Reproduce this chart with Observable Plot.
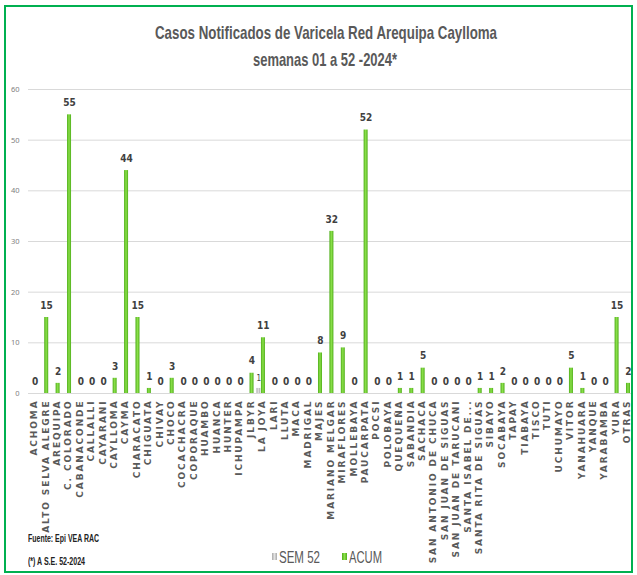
<!DOCTYPE html>
<html><head><meta charset="utf-8">
<script src="https://cdn.jsdelivr.net/npm/d3@7"></script>
<script src="https://cdn.jsdelivr.net/npm/@observablehq/plot@0.6"></script>
<style>
body{margin:0;background:#fff;}
#wrap{position:relative;width:637px;height:575px;overflow:hidden;font-family:"Liberation Sans",Arial,sans-serif;background:#fff;}
#frame{position:absolute;left:4px;top:5px;width:629px;height:568px;border:2px solid #00b050;box-sizing:border-box;pointer-events:none;}
#chart{position:absolute;left:0;top:0;}
.t{position:absolute;white-space:nowrap;transform-origin:0 0;line-height:1;}
.sw{position:absolute;width:5px;height:7px;}
</style></head><body>
<div id="wrap">
<div id="chart"></div>
<div class="t" id="t1" style="font-size:19px;font-weight:bold;color:#595959;">Casos Notificados de Varicela Red Arequipa Caylloma</div>
<div class="t" id="t2" style="font-size:19px;font-weight:bold;color:#595959;">semanas 01 a 52 -2024*</div>
<div class="t" id="f1" style="font-size:10px;font-weight:bold;color:#222;">Fuente: Epi VEA RAC</div>
<div class="t" id="f2" style="font-size:10px;font-weight:bold;color:#222;">(*) A S.E. 52-2024</div>
<div class="sw" style="left:272px;top:553px;background:linear-gradient(90deg,#a9a9a9,#e2e2e2,#a9a9a9);"></div>
<div class="t" id="l1" style="font-size:16px;color:#595959;">SEM 52</div>
<div class="sw" style="left:342px;top:553px;background:linear-gradient(90deg,#4fae1a,#8be04a,#4fae1a);"></div>
<div class="t" id="l2" style="font-size:16px;color:#595959;">ACUM</div>
<div id="frame"></div>
</div>
<script>
const categories = ["ACHOMA","ALTO SELVA ALEGRE","AREQUIPA","C. COLORADO","CABANACONDE","CALLALLI","CAYARANI","CAYLLOMA","CAYMA","CHARACATO","CHIGUATA","CHIVAY","CHOCO","COCACHACRA","COPORAQUE","HUAMBO","HUANCA","HUNTER","ICHUPAMPA","JLBYR","LA JOYA","LARI","LLUTA","MACA","MADRIGAL","MAJES","MARIANO MELGAR","MIRAFLORES","MOLLEBAYA","PAUCARPATA","POCSI","POLOBAYA","QUEQUEÑA","SABANDIA","SACHACA","SAN ANTONIO DE CHUCA","SAN JUAN DE SIGUAS","SAN JUAN DE TARUCANI","SANTA ISABEL DE...","SANTA RITA DE SIGUAS","SIBAYO","SOCABAYA","TAPAY","TIABAYA","TISCO","TUTI","UCHUMAYO","VITOR","YANAHUARA","YANQUE","YARABAMBA","YURA","OTRAS"];
const acum = [0,15,2,55,0,0,0,3,44,15,1,0,3,0,0,0,0,0,0,4,11,0,0,0,0,8,32,9,0,52,0,0,1,1,5,0,0,0,0,1,1,2,0,0,0,0,0,5,1,0,0,15,2];
const sem52 = [0,0,0,0,0,0,0,0,0,0,0,0,0,0,0,0,0,0,0,0,1,0,0,0,0,0,0,0,0,0,0,0,0,0,0,0,0,0,0,0,0,0,0,0,0,0,0,0,0,0,0,0,0];
const yTicks = [0,10,20,30,40,50,60];

const rows = categories.map((c,i)=>({c, acum:acum[i], sem:sem52[i]}));

const chart = Plot.plot({
  width:637, height:575,
  marginTop:89, marginBottom:182, marginLeft:28, marginRight:4.4,
  style:{background:"transparent", overflow:"visible"},
  x:{domain:categories, padding:0, round:false, axis:null, label:null},
  y:{domain:[0,60], axis:null, label:null},
  marks:[
    Plot.ruleY(yTicks,{stroke:"#d9d9d9", strokeWidth:1}),
    Plot.axisY({ticks:yTicks, tickSize:0, tickPadding:9, fontSize:7.5, fill:"#808080", label:null}),
    Plot.barY(rows,{x:"c", y:"acum", fill:"url(#gGreen)", insetLeft:4.8, insetRight:2.6}),
    Plot.barY(rows,{x:"c", y:"sem", fill:"url(#gGray)", insetLeft:0.3, insetRight:7.3}),
    Plot.text(rows,{x:"c", y:"acum", text:d=>String(d.acum), dx:1, dy:-12, fontSize:10, fontWeight:"bold", fontFamily:"DejaVu Sans Condensed, DejaVu Sans, sans-serif", fill:"#404040"}),
    Plot.text(rows.filter(d=>d.sem>0),{x:"c", y:"sem", text:d=>String(d.sem), dx:-3.5, dy:-10, fontSize:8, fontFamily:"DejaVu Sans Condensed, DejaVu Sans, sans-serif", fill:"#404040"}),
    Plot.axisX({tickRotate:-90, tickSize:0, tickPadding:6, fontSize:9, fontWeight:"bold", fontFamily:"DejaVu Sans, sans-serif", fill:"#5a5a5a", label:null})
  ]
});
document.getElementById("chart").appendChild(chart);

const svg = d3.select(chart);
const defs = svg.insert("defs",":first-child");
const gg = defs.append("linearGradient").attr("id","gGreen").attr("x1","0").attr("x2","1").attr("y1","0").attr("y2","0");
gg.append("stop").attr("offset","0%").attr("stop-color","#4fae1a");
gg.append("stop").attr("offset","50%").attr("stop-color","#8be04a");
gg.append("stop").attr("offset","100%").attr("stop-color","#4fae1a");
const g2 = defs.append("linearGradient").attr("id","gGray").attr("x1","0").attr("x2","1").attr("y1","0").attr("y2","0");
g2.append("stop").attr("offset","0%").attr("stop-color","#a9a9a9");
g2.append("stop").attr("offset","50%").attr("stop-color","#e2e2e2");
g2.append("stop").attr("offset","100%").attr("stop-color","#a9a9a9");
svg.selectAll('g[aria-label="x-axis tick label"] text').style("letter-spacing","1.9px");

function fit(id, left, width, top){
  const el = document.getElementById(id);
  el.style.left = left+"px"; el.style.top = top+"px";
  const w = el.getBoundingClientRect().width;
  el.style.transform = "scaleX("+(width/w)+")";
}
fit("t1",155,342,22.5);
fit("t2",253,144,49.5);
fit("f1",28,71,533.7);
fit("f2",28,57,556.7);
fit("l1",279,41,549.6);
fit("l2",349,33,549.6);
</script>
</body></html>
